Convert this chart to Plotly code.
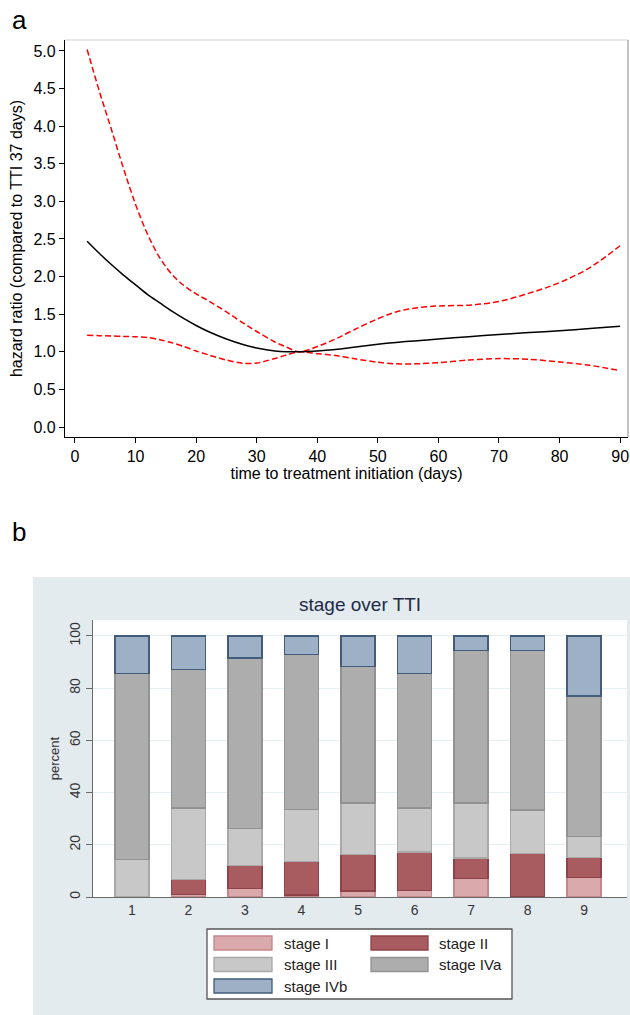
import plotly.graph_objects as go

W, H = 630, 1015

# ---------------- Panel a data ----------------
tti_days = [2, 4, 6, 8, 10, 12, 14, 16, 18, 20, 22, 25, 28, 30, 33, 35, 37, 40, 43, 46,
            50, 53, 56, 60, 65, 70, 75, 80, 85, 90]
hazard_ratio = [2.47, 2.31, 2.16, 2.02, 1.89, 1.76, 1.65, 1.54, 1.44, 1.35, 1.27, 1.17, 1.09,
                1.05, 1.01, 1.00, 1.00, 1.01, 1.03, 1.06, 1.10, 1.125, 1.145, 1.17, 1.20,
                1.23, 1.255, 1.28, 1.31, 1.34]
upper_ci = [5.02, 4.47, 3.96, 3.44, 2.96, 2.56, 2.25, 2.03, 1.88, 1.77, 1.68, 1.53, 1.37,
            1.27, 1.13, 1.06, 1.00, 1.07, 1.17, 1.29, 1.44, 1.53, 1.58, 1.61, 1.62, 1.67,
            1.78, 1.92, 2.12, 2.41]
lower_ci = [1.22, 1.215, 1.21, 1.205, 1.20, 1.19, 1.16, 1.12, 1.07, 1.01, 0.96, 0.89, 0.845,
            0.85, 0.91, 0.96, 1.00, 0.975, 0.95, 0.91, 0.86, 0.84, 0.84, 0.855, 0.89, 0.91,
            0.90, 0.865, 0.82, 0.75]
a_xticks = [0, 10, 20, 30, 40, 50, 60, 70, 80, 90]
a_yticks = [0.0, 0.5, 1.0, 1.5, 2.0, 2.5, 3.0, 3.5, 4.0, 4.5, 5.0]

# ---------------- Panel b data ----------------
tti_groups = ["1", "2", "3", "4", "5", "6", "7", "8", "9"]
stage_I = [0.0, 1.0, 3.3, 0.8, 2.3, 2.4, 7.1, 0.0, 7.6]
stage_II = [0.0, 5.8, 8.9, 12.7, 14.0, 14.8, 7.8, 16.6, 7.4]
stage_III = [14.4, 27.3, 14.1, 20.0, 19.7, 16.9, 21.1, 16.7, 8.3]
stage_IVa = [71.2, 53.1, 65.2, 59.4, 52.4, 51.4, 58.5, 61.2, 53.7]
stage_IVb = [14.4, 12.8, 8.5, 7.1, 11.6, 14.5, 5.5, 5.5, 23.0]
stage_names = ["stage I", "stage II", "stage III", "stage IVa", "stage IVb"]
stage_fill = ["#d9a9ac", "#a85c60", "#c8c8c8", "#adadad", "#9db0c5"]
stage_edge = ["#c4868b", "#8f4247", "#a9a9a9", "#929292", "#425c7c"]
b_yticks = [0, 20, 40, 60, 80, 100]


def py(y):
    return 1 - y / H


def px(x):
    return x / W


fig = go.Figure()

# panel a traces
fig.add_trace(go.Scatter(x=tti_days, y=upper_ci, mode="lines", xaxis="x", yaxis="y",
                         line=dict(color="#ff0000", width=1.5, dash="6px,3px", shape="spline", smoothing=1.0),
                         showlegend=False))
fig.add_trace(go.Scatter(x=tti_days, y=lower_ci, mode="lines", xaxis="x", yaxis="y",
                         line=dict(color="#ff0000", width=1.5, dash="6px,3px", shape="spline", smoothing=0.8),
                         showlegend=False))
fig.add_trace(go.Scatter(x=tti_days, y=hazard_ratio, mode="lines", xaxis="x", yaxis="y",
                         line=dict(color="#000000", width=1.5, shape="spline", smoothing=0.8),
                         showlegend=False))

# panel b traces
for vals, name, fc, ec in zip([stage_I, stage_II, stage_III, stage_IVa, stage_IVb],
                              stage_names, stage_fill, stage_edge):
    fig.add_trace(go.Bar(x=tti_groups, y=vals, name=name, xaxis="x2", yaxis="y2",
                         width=0.6, marker=dict(color=fc, line=dict(color=ec, width=1.3)),
                         showlegend=False))

fig.update_layout(
    width=W, height=H, margin=dict(l=0, r=0, t=0, b=0, autoexpand=False),
    paper_bgcolor="white", plot_bgcolor="white",
    barmode="stack", bargap=0.4,
    font=dict(family="Liberation Sans, Arial, sans-serif", color="#000"),
    xaxis=dict(domain=[px(65), px(628)], anchor="y", range=[-1.65, 91.3], automargin=False,
               tickvals=a_xticks, ticks="outside", ticklen=5, tickcolor="#000",
               showline=True, linecolor="#000", linewidth=1.3, showgrid=False, zeroline=False,
               tickfont=dict(size=16, color="#000"),
               title=dict(text="time to treatment initiation (days)", font=dict(size=16, color="#000"), standoff=0)),
    yaxis=dict(domain=[py(437), py(40)], anchor="x", range=[-0.133, 5.146], automargin=False,
               tickvals=a_yticks, tickformat=".1f", ticks="outside", ticklen=5, tickcolor="#000",
               showline=True, linecolor="#000", linewidth=1.3, showgrid=False, zeroline=False,
               tickfont=dict(size=16, color="#000"),
               title=dict(text="hazard ratio (compared to TTI 37 days)", font=dict(size=16, color="#000"), standoff=6)),
    xaxis2=dict(domain=[px(93), px(627)], anchor="y2", range=[-0.69, 8.76], automargin=False,
                type="category", ticks="", showline=True, linecolor="#6a6a6a", linewidth=1.2,
                showgrid=False, zeroline=False, tickfont=dict(size=14, color="#333")),
    yaxis2=dict(domain=[py(897), py(620)], anchor="x2", range=[0, 106.1], automargin=False,
                tickvals=b_yticks, ticks="outside", ticklen=6, tickcolor="#6a6a6a", tickangle=-90,
                showline=True, linecolor="#6a6a6a", linewidth=1.2,
                showgrid=True, gridcolor="#e6eff2", gridwidth=1, zeroline=False,
                tickfont=dict(size=14, color="#333"),
                title=dict(text="percent", font=dict(size=13, color="#333"), standoff=4)),
)

shapes = []
# panel a: light top/right frame
shapes.append(dict(type="line", xref="x domain", yref="y domain", x0=0, x1=1, y0=1, y1=1,
                   line=dict(color="#d4d4d4", width=1.2)))
shapes.append(dict(type="line", xref="x domain", yref="y domain", x0=1, x1=1, y0=0, y1=1,
                   line=dict(color="#9a9a9a", width=1.2)))
# panel b background region
shapes.append(dict(type="rect", xref="paper", yref="paper", x0=px(33), x1=1.0, y0=0, y1=py(577),
                   fillcolor="#e4ebef", line=dict(width=0), layer="below"))
shapes.append(dict(type="rect", xref="paper", yref="paper", x0=px(93), x1=px(627), y0=py(897), y1=py(620),
                   fillcolor="white", line=dict(width=0), layer="below"))
# legend box
shapes.append(dict(type="rect", xref="paper", yref="paper", x0=px(207), x1=px(512), y0=py(999), y1=py(929),
                   fillcolor="white", line=dict(color="#555", width=1.3)))
leg_cols = [(214, 272, 282), (371, 428, 437)]
leg_rows = [943, 964.5, 986]
annotations = []
for i, (name, fc, ec) in enumerate(zip(stage_names, stage_fill, stage_edge)):
    c = leg_cols[i % 2]
    r = leg_rows[i // 2]
    shapes.append(dict(type="rect", xref="paper", yref="paper", x0=px(c[0]), x1=px(c[1]),
                       y0=py(r + 7), y1=py(r - 7), fillcolor=fc, line=dict(color=ec, width=1.3)))
    annotations.append(dict(text=name, xref="paper", yref="paper", x=px(c[2]), y=py(r),
                            xanchor="left", yanchor="middle", showarrow=False,
                            font=dict(size=15, color="#222")))

annotations += [
    dict(text="a", xref="paper", yref="paper", x=px(10), y=py(20), xanchor="left", yanchor="middle",
         showarrow=False, font=dict(size=26, color="#000")),
    dict(text="b", xref="paper", yref="paper", x=px(10), y=py(532), xanchor="left", yanchor="middle",
         showarrow=False, font=dict(size=26, color="#000")),
    dict(text="stage over TTI", xref="paper", yref="paper", x=px(360), y=py(604), xanchor="center",
         yanchor="middle", showarrow=False, font=dict(size=19, color="#1e2a44")),
]
fig.update_layout(shapes=shapes, annotations=annotations)

fig.write_html("out.html", config={"displayModeBar": False},
               post_script="document.body.style.margin='0';document.body.style.overflow='hidden';")
